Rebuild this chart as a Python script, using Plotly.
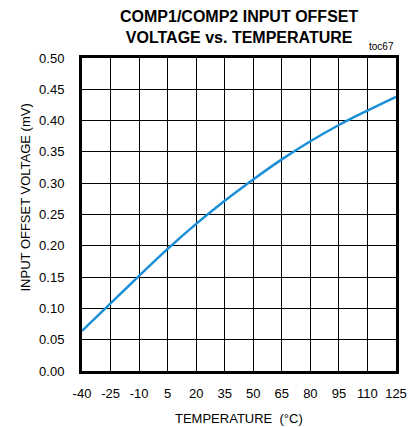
import plotly.graph_objects as go

# temperature (°C) and input offset voltage (mV)
temperature = [-40, -25, -10, 5, 20, 35, 50, 65, 80, 95, 110, 125]
offset_mv = [0.064, 0.108, 0.152, 0.195, 0.235, 0.272, 0.306, 0.338, 0.367, 0.393, 0.416, 0.438]

x_ticks = [-40, -25, -10, 5, 20, 35, 50, 65, 80, 95, 110, 125]
y_ticks = [0.00, 0.05, 0.10, 0.15, 0.20, 0.25, 0.30, 0.35, 0.40, 0.45, 0.50]

font_main = "Liberation Sans Narrow, Liberation Sans, Arial"

fig = go.Figure()
fig.add_trace(go.Scatter(
    x=temperature, y=offset_mv, mode="lines",
    line=dict(color="#1a8fd8", width=2.5, shape="spline", smoothing=1.0),
    showlegend=False, hoverinfo="skip",
))

fig.update_layout(
    width=419, height=427,
    margin=dict(l=82, r=12, t=58, b=56),
    paper_bgcolor="white", plot_bgcolor="white",
    font=dict(family=font_main, size=13, color="black"),
    annotations=[
        dict(text="<b>COMP1/COMP2 INPUT OFFSET<br>VOLTAGE vs. TEMPERATURE</b>",
             xref="paper", yref="paper", x=0.5, y=1, yshift=52,
             xanchor="center", yanchor="top", showarrow=False,
             font=dict(size=16, family=font_main)),
        dict(text="toc67", xref="paper", yref="paper", x=1, y=1, yshift=4,
             xanchor="right", yanchor="bottom", showarrow=False,
             font=dict(size=10, family="Liberation Sans, Arial")),
        dict(text="INPUT OFFSET VOLTAGE (mV)", xref="paper", yref="paper",
             x=0, xshift=-57, y=0.5, yshift=17, textangle=-90,
             xanchor="center", yanchor="middle", showarrow=False,
             font=dict(size=13)),
        dict(text="TEMPERATURE  (°C)", xref="paper", yref="paper",
             x=0.5, yshift=-47, y=0, xanchor="center", yanchor="middle",
             showarrow=False, font=dict(size=13)),
    ],
)

fig.update_xaxes(
    range=[-40, 125], tickvals=x_ticks, ticktext=[str(v) for v in x_ticks],
    showgrid=True, gridcolor="black", gridwidth=1,
    showline=True, linecolor="black", linewidth=3, mirror=True,
    ticks="", ticklabelstandoff=8, zeroline=False,
    tickfont=dict(size=13),
)
fig.update_yaxes(
    range=[0, 0.5], tickvals=y_ticks, ticktext=["%.2f" % v for v in y_ticks],
    showgrid=True, gridcolor="black", gridwidth=1,
    showline=True, linecolor="black", linewidth=3, mirror=True,
    ticks="", ticklabelstandoff=12, zeroline=False,
    tickfont=dict(size=13),
)

# drop the default page margin so the figure sits at the window's corner
fig.write_html("out.html", config={"displayModeBar": False},
               post_script="document.body.style.margin='0';")
